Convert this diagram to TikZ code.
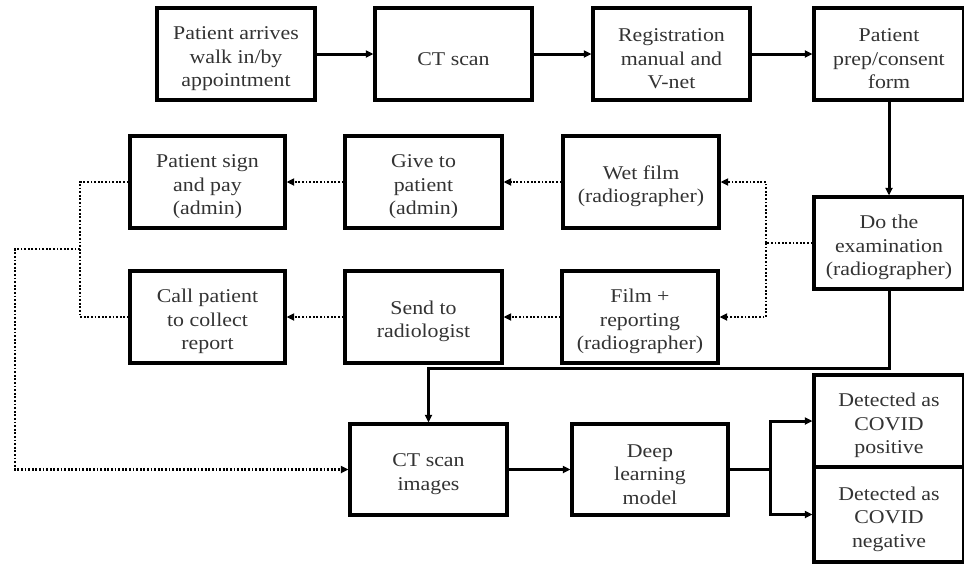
\documentclass[tikz,border=0pt]{standalone}
\usepackage{fontspec}
\setmainfont{Liberation Serif}[FakeStretch=1.12]
\usetikzlibrary{arrows.meta}
\newcommand\topstrut{\rule{0pt}{22.5pt}}
\begin{document}
\begin{tikzpicture}[x=1pt,y=-1pt,
  box/.style={draw,line width=3.2pt,align=center,inner sep=0pt,
    text=black!80,font=\fontsize{19.5}{23.5}\selectfont},
  wa/.style={box,minimum width=157pt,minimum height=92pt},
  wb/.style={box,minimum width=150pt,minimum height=92pt},
  conn/.style={line width=3pt},
  arr/.style={conn,-{Triangle[length=7.5pt,width=7pt]}},
  dot/.style={line width=2.7pt,dash pattern=on 1.8pt off 1.8pt},
  dotarr/.style={dot,-{Triangle[length=7.5pt,width=7pt]}}]
\useasboundingbox (0,0) rectangle (964,574);
\fill[white] (0,0) rectangle (964,574);
% row 1
\node[wa,minimum width=158pt] (A) at (236,54) {\topstrut Patient arrives\\walk in/by\\appointment};
\node[wa] (B) at (453.5,54) {\topstrut CT scan};
\node[wa] (C) at (671.5,54) {\topstrut Registration\\manual and\\V-net};
\node[wb] (D) at (889,54) {\topstrut Patient\\prep/consent\\form};
% row 2
\node[wa,minimum width=155pt] (E) at (207.5,182) {\topstrut Patient sign\\and pay\\(admin)};
\node[wa] (F) at (423.5,182) {\topstrut Give to\\patient\\(admin)};
\node[wa,minimum width=156pt] (G) at (641,182) {\topstrut Wet film\\(radiographer)};
\node[wb] (H) at (889,243) {\topstrut Do the\\examination\\(radiographer)};
% row 3
\node[wa,minimum width=155pt] (I) at (207.5,317) {\topstrut Call patient\\to collect\\report};
\node[wa] (J) at (423.5,317) {\topstrut Send to\\radiologist};
\node[wa,minimum width=156pt] (K) at (640,317) {\topstrut Film +\\reporting\\(radiographer)};
% row 4
\node[wa,minimum height=91pt] (L) at (428.5,469.5) {\topstrut CT scan\\images};
\node[wa,minimum width=156pt,minimum height=91pt] (M) at (650,469.5) {\topstrut Deep\\learning\\model};
\node[wb] (N) at (889,421) {\topstrut Detected as\\COVID\\positive};
\node[wb,minimum height=95pt] (O) at (889,514.5) {\topstrut Detected as\\COVID\\negative};
% solid connectors
\draw[arr] (A.east) -- (B.west);
\draw[arr] (B.east) -- (C.west);
\draw[arr] (C.east) -- (D.west);
\draw[arr] (D.south) -- (H.north);
\coordinate (bend) at (889,368);
\draw[arr] (H.south) -- (bend) -| (L.north);
\draw[arr] (L.east) -- (M.west);
\coordinate (br) at (770,469.5);
\draw[conn] (M.east) -- (br);
\draw[arr] (br) |- (N.west);
\draw[arr] (br) |- (O.west);
% dotted connectors
\coordinate (jx) at (766,243);
\draw[dot] (H.west) -- (jx);
\draw[dotarr] (jx) |- (G.east);
\draw[dotarr] (jx) |- (K.east);
\draw[dotarr] (G.west) -- (F.east);
\draw[dotarr] (K.west) -- (J.east);
\draw[dotarr] (F.west) -- (E.east);
\draw[dotarr] (J.west) -- (I.east);
\coordinate (lx) at (80,249);
\coordinate (far) at (15,249);
\draw[dot] (E.west) -| (lx) |- (I.west);
\draw[dotarr] (lx) -- (far) |- (L.west);
\end{tikzpicture}
\end{document}
